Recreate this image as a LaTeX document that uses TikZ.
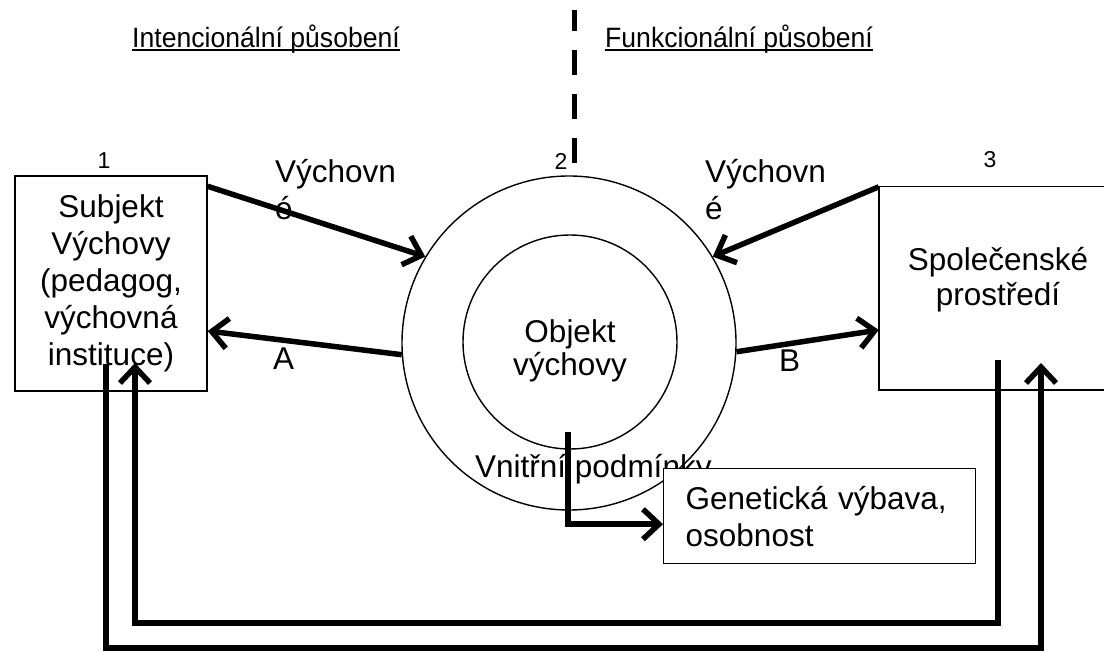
\documentclass[tikz,border=0pt]{standalone}
\usepackage{fontspec}
\setmainfont{Liberation Sans}
\usetikzlibrary{arrows.meta,calc}
\begin{document}
\begin{tikzpicture}[x=1pt,y=-1pt,
  boxline/.style={line width=1.4pt},
  fat/.style={line width=5.5pt},
  arr/.style={fat,-{Straight Barb[length=16pt,width=30pt]}},
  main/.style={font=\fontsize{31.5}{37}\selectfont},
  small/.style={font=\fontsize{23}{26}\selectfont},
  top/.style={font=\fontsize{28}{30}\selectfont, inner sep=0pt, anchor=base west},
  lbl/.style={main, inner sep=0pt, anchor=base west, align=left}]
\useasboundingbox (0,0) rectangle (1104,652);

% top labels and divider
\node[top] (lab1) at (132,48) {\scalebox{0.95}[1]{Intencionální působení}};
\node[top] (lab2) at (605,48) {\scalebox{0.95}[1]{Funkcionální působení}};
\draw[line width=2pt] ([yshift=-2pt]lab1.base west) -- ([yshift=-2pt]lab1.base east);
\draw[line width=2pt] ([yshift=-2pt]lab2.base west) -- ([yshift=-2pt]lab2.base east);
\coordinate (dtop) at (574,10);
\coordinate (dbot) at (574,163);
\draw[line width=5pt, dash pattern=on 25pt off 19pt] (dbot) -- (dtop);

% numbers
\node[small, inner sep=0pt, anchor=base] (n1) at (104,169) {1};
\node[small, inner sep=0pt, anchor=base] (n2) at (561,170) {2};
\node[small, inner sep=0pt, anchor=base] (n3) at (990,168) {3};

% boxes
\node[draw, boxline, rectangle, minimum width=192pt, minimum height=215pt, inner sep=0pt, align=center, main] (b1) at (111,283.5) {Subjekt\\Výchovy\\(pedagog,\\výchovná\\instituce)};
\node[minimum width=225pt, minimum height=203pt, inner sep=0pt] (soc) at (991.5,288.5) {};
\draw[boxline] (soc.north east) -- (soc.north west) -- (soc.south west) -- (soc.south east);
\node[align=center, inner sep=0pt, font=\fontsize{31.5}{35}\selectfont] (soctxt) at (998,279.5) {Společenské\\prostředí};

% circles
\node[circle, draw, boxline, minimum size=334pt, inner sep=0pt] (outer) at (569,343) {};
\node[circle, draw, boxline, minimum size=214pt, inner sep=0pt] (inner) at (570,342) {};
\node[align=center, inner sep=0pt, font=\fontsize{31.5}{33}\selectfont] (objtxt) at (570,351) {Objekt\\výchovy};
\node[lbl] (vnitr) at (475,478) {Vnitřní podmínky};

% genetic box
\node[draw, boxline, fill=white, anchor=north west, minimum width=312pt, minimum height=95pt, text width=268pt, inner xsep=22pt, inner ysep=0pt, align=left, main] (gen) at (663,468) {Genetická výbava,\\osobnost};

% labels (base anchor = baseline of the last line)
\node[lbl] (vych1) at (275,220) {Výchovn\\é};
\node[lbl] (vych2) at (705,220) {Výchovn\\é};
\node[lbl] (la) at (273,370) {A};
\node[lbl] (lb) at (779,372) {B};

% arrows
\draw[arr] ([yshift=-11pt]b1.north east) -- (outer.149);
\draw[arr] (outer.184) -- ([yshift=-47.5pt]b1.east);
\draw[arr] (soc.north west) -- (outer.31);
\draw[arr] (outer.-3) -- ([yshift=-41.5pt]soc.west);

\coordinate (gs) at (568,432);
\draw[arr] (gs) |- ([yshift=-8pt]gen.west);

% feedback loops
\coordinate (l1s) at (998,360);
\coordinate (l1b) at (574,623);
\coordinate (l1e) at (135,363);
\draw[arr] (l1s) |- (l1b) -| (l1e);
\coordinate (l2s) at (106,364);
\coordinate (l2b) at (574,648);
\coordinate (l2e) at (1041,363);
\draw[arr] (l2s) |- (l2b) -| (l2e);
\end{tikzpicture}
\end{document}
